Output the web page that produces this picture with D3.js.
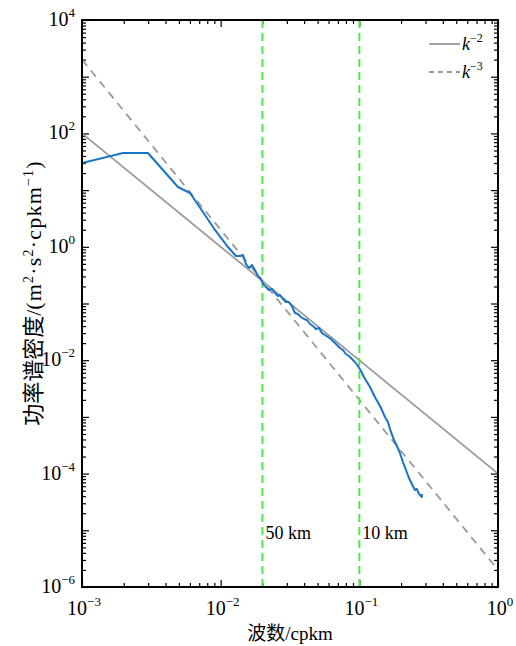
<!DOCTYPE html>
<html>
<head>
<meta charset="utf-8">
<script src="https://cdn.jsdelivr.net/npm/d3@7"></script>
<style>
  body { margin: 0; background: #fff; }
  text { font-family: "Liberation Serif", "Noto Sans CJK SC", serif; fill: #000; }
</style>
</head>
<body>
<svg id="chart"></svg>
<script>
// observed spectrum (wavenumber in cpkm, PSD)
const wavenumber = [0.001, 0.00198, 0.00299, 0.00492, 0.00601, 0.00745, 0.0091, 0.01129, 0.01288, 0.01377,
    0.01449, 0.0152, 0.016, 0.01683, 0.01766, 0.01858, 0.01954, 0.02018, 0.02123, 0.02228,
    0.02344, 0.02466, 0.02588, 0.0268, 0.02812, 0.02958, 0.03105, 0.03266, 0.03436, 0.03606,
    0.03793, 0.0399, 0.04188, 0.04406, 0.04634, 0.04864, 0.05117, 0.0537, 0.05649, 0.05943,
    0.06237, 0.06561, 0.06902, 0.07244, 0.07621, 0.07998, 0.08414, 0.08851, 0.0929, 0.0977,
    0.1028, 0.1079, 0.1135, 0.1194, 0.1253, 0.1318, 0.1384, 0.1456, 0.1531, 0.1607,
    0.169, 0.1778, 0.1866, 0.1963, 0.2061, 0.2168, 0.228, 0.2393, 0.2518, 0.26,
    0.2692, 0.2825, 0.2825];
const psd = [30.1, 45.1, 45.1, 11.35, 8.89, 4.11, 1.98, 0.991, 0.689, 0.689,
    0.716, 0.497, 0.423, 0.478, 0.39, 0.305, 0.27, 0.221, 0.195, 0.173,
    0.18, 0.153, 0.1355, 0.141, 0.12, 0.106, 0.106, 0.0903, 0.0679, 0.0653,
    0.0578, 0.0533, 0.0512, 0.0435, 0.0401, 0.0355, 0.037, 0.0302, 0.0278, 0.02564,
    0.02366, 0.02094, 0.01854, 0.01641, 0.01514, 0.01285, 0.01186, 0.0105, 0.00929, 0.00791,
    0.00644, 0.00506, 0.00412, 0.00337, 0.00264, 0.00207, 0.00169, 0.00132, 0.000995, 0.000813,
    0.000542, 0.000392, 0.000307, 0.000231, 0.00016, 0.000116, 8.36e-5, 6.56e-5, 5.14e-5, 5.35e-5,
    4.37e-5, 3.86e-5, 4.37e-5];

// reference slopes, end points at k = 1e-3 and k = 1
const k2Line = [[0.001, 100], [1, 1e-4]];
const k3Line = [[0.001, 2000], [1, 2e-6]];

const scaleMarks = [0.02, 0.1];
const scaleLabels = ['50 km', '10 km'];

const xTickExps = [-3, -2, -1, 0];
const yTickExps = [4, 2, 0, -2, -4, -6];

const width = 516, height = 646;
const margin = { left: 82, right: 18, top: 20, bottom: 59 };
const innerW = width - margin.left - margin.right;
const innerH = height - margin.top - margin.bottom;

const svg = d3.select('#chart')
    .attr('width', width)
    .attr('height', height);

const x = d3.scaleLog().domain([1e-3, 1]).range([0, innerW]);
const y = d3.scaleLog().domain([1e-6, 1e4]).range([innerH, 0]);

svg.append('defs').append('clipPath')
    .attr('id', 'plot-clip')
    .append('rect')
    .attr('width', innerW)
    .attr('height', innerH);

const g = svg.append('g')
    .attr('transform', `translate(${margin.left},${margin.top})`);

// minor + major tick positions
const minorTicks = (lo, hi) => {
    const out = [];
    for (let e = lo; e < hi; e++) {
        for (let m = 2; m <= 9; m++) out.push(m * Math.pow(10, e));
    }
    return out;
};
const xMajor = d3.range(-3, 1).map(e => Math.pow(10, e));
const yMajor = d3.range(-6, 5).map(e => Math.pow(10, e));
const xMinor = minorTicks(-3, 0);
const yMinor = minorTicks(-6, 4);

const tickAxis = (axisFn, scale, vals, size) =>
    axisFn(scale).tickValues(vals).tickSize(size).tickFormat('');

const drawTicks = (sel) => {
    sel.select('.domain').remove();
    sel.selectAll('line').attr('stroke', '#000').attr('stroke-width', 1.2);
};

g.append('g').attr('transform', `translate(0,${innerH})`)
    .call(tickAxis(d3.axisBottom, x, xMajor, -7)).call(drawTicks);
g.append('g').attr('transform', `translate(0,${innerH})`)
    .call(tickAxis(d3.axisBottom, x, xMinor, -4)).call(drawTicks);
g.append('g')
    .call(tickAxis(d3.axisTop, x, xMajor, -7)).call(drawTicks);
g.append('g')
    .call(tickAxis(d3.axisTop, x, xMinor, -4)).call(drawTicks);
g.append('g')
    .call(tickAxis(d3.axisLeft, y, yMajor, -7)).call(drawTicks);
g.append('g')
    .call(tickAxis(d3.axisLeft, y, yMinor, -4)).call(drawTicks);
g.append('g').attr('transform', `translate(${innerW},0)`)
    .call(tickAxis(d3.axisRight, y, yMajor, -7)).call(drawTicks);
g.append('g').attr('transform', `translate(${innerW},0)`)
    .call(tickAxis(d3.axisRight, y, yMinor, -4)).call(drawTicks);

const fmtExp = e => (e < 0 ? '\u2212' + Math.abs(e) : String(e));

// x tick labels
const xLab = g.selectAll('.xlab')
    .data(xTickExps)
    .enter()
        .append('text')
        .attr('class', 'xlab')
        .attr('x', d => x(Math.pow(10, d)) + 2)
        .attr('y', innerH + 28)
        .attr('text-anchor', 'middle')
        .attr('font-size', 20);
xLab.append('tspan').text('10');
xLab.append('tspan').attr('dy', -9).attr('font-size', 13).text(d => fmtExp(d));

// y tick labels
const yLab = g.selectAll('.ylab')
    .data(yTickExps)
    .enter()
        .append('text')
        .attr('class', 'ylab')
        .attr('x', -7)
        .attr('y', d => y(Math.pow(10, d)) + 6)
        .attr('text-anchor', 'end')
        .attr('font-size', 20);
yLab.append('tspan').text('10');
yLab.append('tspan').attr('dy', -9).attr('font-size', 13).text(d => fmtExp(d));

const plot = g.append('g').attr('clip-path', 'url(#plot-clip)');

const refLine = d3.line()
    .x(d => x(d[0]))
    .y(d => y(d[1]));

plot.append('path')
    .datum(k2Line)
    .attr('d', refLine)
    .attr('fill', 'none')
    .attr('stroke', '#9a9a9a')
    .attr('stroke-width', 1.8);

plot.append('path')
    .datum(k3Line)
    .attr('d', refLine)
    .attr('fill', 'none')
    .attr('stroke', '#9a9a9a')
    .attr('stroke-width', 1.8)
    .attr('stroke-dasharray', '8,6');

plot.selectAll('.scale-mark')
    .data(scaleMarks)
    .enter()
        .append('line')
        .attr('class', 'scale-mark')
        .attr('x1', d => x(d))
        .attr('x2', d => x(d))
        .attr('y1', 0)
        .attr('y2', innerH)
        .attr('stroke', '#4cea4c')
        .attr('stroke-width', 2)
        .attr('stroke-dasharray', '8,5');

const spec = d3.line()
    .x((d, i) => x(wavenumber[i]))
    .y(d => y(d));

plot.append('path')
    .datum(psd)
    .attr('d', spec)
    .attr('fill', 'none')
    .attr('stroke', '#1a74c4')
    .attr('stroke-width', 2)
    .attr('stroke-linejoin', 'round');

g.selectAll('.scale-label')
    .data(scaleMarks)
    .enter()
        .append('text')
        .attr('class', 'scale-label')
        .attr('x', d => x(d) + 3)
        .attr('y', 519)
        .attr('font-size', 18)
        .text((d, i) => scaleLabels[i]);

// frame
g.append('rect')
    .attr('width', innerW)
    .attr('height', innerH)
    .attr('fill', 'none')
    .attr('stroke', '#000')
    .attr('stroke-width', 2);

// legend
const legend = g.append('g').attr('transform', `translate(${innerW - 69},24)`);
[['2', null], ['3', '5,4']].forEach((item, i) => {
    const row = legend.append('g').attr('transform', `translate(0,${i * 28})`);
    row.append('line')
        .attr('x1', 0).attr('x2', 31)
        .attr('stroke', '#9a9a9a')
        .attr('stroke-width', 1.8)
        .attr('stroke-dasharray', item[1]);
    const t = row.append('text')
        .attr('x', 33)
        .attr('y', 6)
        .attr('font-size', 18);
    t.append('tspan').attr('font-style', 'italic').text('k');
    t.append('tspan').attr('dy', -8).attr('font-size', 12).text('\u2212' + item[0]);
});

// axis titles
svg.append('text')
    .attr('x', margin.left + innerW / 2)
    .attr('y', 640)
    .attr('text-anchor', 'middle')
    .attr('font-size', 19)
    .text('波数/cpkm');

const yTitle = svg.append('text')
    .attr('transform', 'translate(41,293) rotate(-90)')
    .attr('text-anchor', 'middle')
    .attr('font-size', 22);
yTitle.append('tspan').text('功率谱密度/');
const unitPart = (txt, sup) => yTitle.append('tspan')
    .attr('dy', sup ? -8 : (sup === false ? 8 : 0))
    .attr('font-size', sup ? 14 : 22)
    .attr('letter-spacing', 1.2)
    .text(txt);
unitPart('(m', null);
unitPart('2', true);
unitPart('·s', false);
unitPart('2', true);
unitPart('·cpkm', false);
unitPart('\u22121', true);
unitPart(')', false);
</script>
</body>
</html>
